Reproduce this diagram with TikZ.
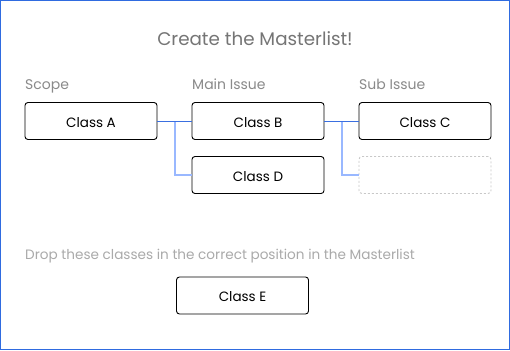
\documentclass[tikz,border=0pt]{standalone}
\usepackage{fontspec}
\setmainfont{Poppins}
\usetikzlibrary{calc}
\definecolor{frameblue}{HTML}{2F6BE0}
\definecolor{linkdark}{HTML}{3A6FE0}
\definecolor{linklight}{HTML}{99B8FF}
\definecolor{titlegray}{HTML}{757575}
\definecolor{labelgray}{HTML}{8A8A8A}
\definecolor{hintgray}{HTML}{AAAAAA}
\definecolor{slotgray}{HTML}{C8C8C8}
\begin{document}
\begin{tikzpicture}[x=1pt,y=-1pt,
  classbox/.style={draw=black,line width=0.9pt,rounded corners=3pt,
    minimum width=132pt,minimum height=37pt,inner sep=0pt,
    text height=12.5pt,text depth=0pt,
    font=\fontsize{13.5}{16}\selectfont},
  slotbox/.style={draw=slotgray,dash pattern=on 2pt off 2pt,line width=0.9pt,
    rounded corners=3pt,minimum width=132pt,minimum height=37pt,inner sep=0pt},
  collabel/.style={anchor=base west,text=labelgray,inner sep=0pt,
    font=\fontsize{14}{16}\selectfont},
  mainlink/.style={draw=linkdark,line width=1pt},
  sublink/.style={draw=linklight,line width=2pt},
]
  % canvas and outer frame
  \fill[white] (0,0) rectangle (510,350);
  \draw[frameblue,line width=1.2pt] (0.6,0.6) rectangle (509.4,349.4);
  \useasboundingbox (0,0) rectangle (510,350);

  % heading
  \node[anchor=base,text=titlegray,inner sep=0pt,
    font=\fontsize{18.3}{21}\selectfont] (title) at (255,46) {Create the Masterlist!};

  % column headers
  \node[collabel] (lscope) at (25,89) {Scope};
  \node[collabel] (lmain) at (192,89) {Main Issue};
  \node[collabel] (lsub) at (359,89) {Sub Issue};

  % hierarchy boxes
  \node[classbox] (a) at (91,121) {Class A};
  \node[classbox] (b) at (258,121) {Class B};
  \node[classbox] (c) at (425,121) {Class C};
  \node[classbox] (d) at (258,175) {Class D};
  \node[slotbox]  (slot) at (425,175) {};

  % connectors
  \coordinate (j1) at ($(a.east)!0.5!(b.west)$);
  \coordinate (j2) at ($(b.east)!0.5!(c.west)$);
  \draw[sublink] (j1) |- (d.west);
  \draw[sublink] (j2) |- (slot.west);
  \draw[mainlink] (a.east) -- (b.west);
  \draw[mainlink] (b.east) -- (c.west);

  % drop area
  \node[anchor=base west,text=hintgray,inner sep=0pt,
    font=\fontsize{13.6}{16}\selectfont] (hint) at (25,259)
    {Drop these classes in the correct position in the Masterlist};
  \node[classbox] (e) at (242.5,295.5) {Class E};
\end{tikzpicture}
\end{document}
